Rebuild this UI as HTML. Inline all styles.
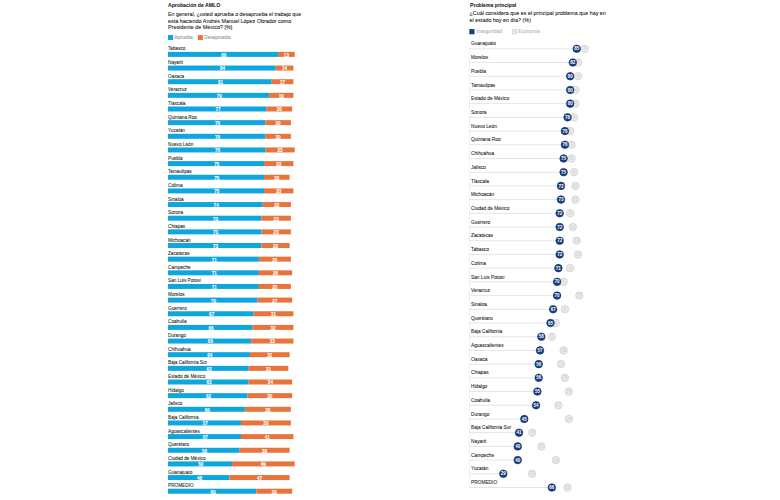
<!DOCTYPE html>
<html><head><meta charset="utf-8"><style>
html,body{margin:0;padding:0;background:#fff;width:780px;height:500px;overflow:hidden}
body{position:relative;font-family:"Liberation Sans",sans-serif}
.t{position:absolute;white-space:nowrap;-webkit-text-stroke:0.07px currentColor}
svg text{font-family:"Liberation Sans",sans-serif}
</style></head><body>
<svg style="position:absolute;left:0;top:0;width:780px;height:500px" width="780" height="500" viewBox="0 0 780 500">
<rect x="168.00" y="35.00" width="5.00" height="5.00" fill="#0ea6df" />
<rect x="197.90" y="35.00" width="5.00" height="5.00" fill="#e8743b" />
<rect x="168.00" y="51.90" width="110.08" height="5.00" fill="#0ea6df" />
<rect x="278.08" y="51.90" width="16.64" height="5.00" fill="#e8743b" />
<rect x="168.00" y="65.55" width="107.52" height="5.00" fill="#0ea6df" />
<rect x="275.52" y="65.55" width="17.92" height="5.00" fill="#e8743b" />
<rect x="168.00" y="79.20" width="103.68" height="5.00" fill="#0ea6df" />
<rect x="271.68" y="79.20" width="21.76" height="5.00" fill="#e8743b" />
<rect x="168.00" y="92.85" width="101.12" height="5.00" fill="#0ea6df" />
<rect x="269.12" y="92.85" width="24.32" height="5.00" fill="#e8743b" />
<rect x="168.00" y="106.50" width="98.56" height="5.00" fill="#0ea6df" />
<rect x="266.56" y="106.50" width="25.60" height="5.00" fill="#e8743b" />
<rect x="168.00" y="120.15" width="97.28" height="5.00" fill="#0ea6df" />
<rect x="265.28" y="120.15" width="25.60" height="5.00" fill="#e8743b" />
<rect x="168.00" y="133.80" width="97.28" height="5.00" fill="#0ea6df" />
<rect x="265.28" y="133.80" width="25.60" height="5.00" fill="#e8743b" />
<rect x="168.00" y="147.45" width="97.28" height="5.00" fill="#0ea6df" />
<rect x="265.28" y="147.45" width="29.44" height="5.00" fill="#e8743b" />
<rect x="168.00" y="161.10" width="96.00" height="5.00" fill="#0ea6df" />
<rect x="264.00" y="161.10" width="29.44" height="5.00" fill="#e8743b" />
<rect x="168.00" y="174.75" width="96.00" height="5.00" fill="#0ea6df" />
<rect x="264.00" y="174.75" width="25.60" height="5.00" fill="#e8743b" />
<rect x="168.00" y="188.40" width="96.00" height="5.00" fill="#0ea6df" />
<rect x="264.00" y="188.40" width="29.44" height="5.00" fill="#e8743b" />
<rect x="168.00" y="202.05" width="94.72" height="5.00" fill="#0ea6df" />
<rect x="262.72" y="202.05" width="28.16" height="5.00" fill="#e8743b" />
<rect x="168.00" y="215.70" width="93.44" height="5.00" fill="#0ea6df" />
<rect x="261.44" y="215.70" width="29.44" height="5.00" fill="#e8743b" />
<rect x="168.00" y="229.35" width="93.44" height="5.00" fill="#0ea6df" />
<rect x="261.44" y="229.35" width="29.44" height="5.00" fill="#e8743b" />
<rect x="168.00" y="243.00" width="93.44" height="5.00" fill="#0ea6df" />
<rect x="261.44" y="243.00" width="28.16" height="5.00" fill="#e8743b" />
<rect x="168.00" y="256.65" width="90.88" height="5.00" fill="#0ea6df" />
<rect x="258.88" y="256.65" width="32.00" height="5.00" fill="#e8743b" />
<rect x="168.00" y="270.30" width="90.88" height="5.00" fill="#0ea6df" />
<rect x="258.88" y="270.30" width="33.28" height="5.00" fill="#e8743b" />
<rect x="168.00" y="283.95" width="90.88" height="5.00" fill="#0ea6df" />
<rect x="258.88" y="283.95" width="32.00" height="5.00" fill="#e8743b" />
<rect x="168.00" y="297.60" width="89.60" height="5.00" fill="#0ea6df" />
<rect x="257.60" y="297.60" width="34.56" height="5.00" fill="#e8743b" />
<rect x="168.00" y="311.25" width="85.76" height="5.00" fill="#0ea6df" />
<rect x="253.76" y="311.25" width="39.68" height="5.00" fill="#e8743b" />
<rect x="168.00" y="324.90" width="84.48" height="5.00" fill="#0ea6df" />
<rect x="252.48" y="324.90" width="40.96" height="5.00" fill="#e8743b" />
<rect x="168.00" y="338.55" width="83.20" height="5.00" fill="#0ea6df" />
<rect x="251.20" y="338.55" width="42.24" height="5.00" fill="#e8743b" />
<rect x="168.00" y="352.20" width="81.92" height="5.00" fill="#0ea6df" />
<rect x="249.92" y="352.20" width="39.68" height="5.00" fill="#e8743b" />
<rect x="168.00" y="365.85" width="80.64" height="5.00" fill="#0ea6df" />
<rect x="248.64" y="365.85" width="39.68" height="5.00" fill="#e8743b" />
<rect x="168.00" y="379.50" width="80.64" height="5.00" fill="#0ea6df" />
<rect x="248.64" y="379.50" width="43.52" height="5.00" fill="#e8743b" />
<rect x="168.00" y="393.15" width="79.36" height="5.00" fill="#0ea6df" />
<rect x="247.36" y="393.15" width="44.80" height="5.00" fill="#e8743b" />
<rect x="168.00" y="406.80" width="76.80" height="5.00" fill="#0ea6df" />
<rect x="244.80" y="406.80" width="46.08" height="5.00" fill="#e8743b" />
<rect x="168.00" y="420.45" width="72.96" height="5.00" fill="#0ea6df" />
<rect x="240.96" y="420.45" width="49.92" height="5.00" fill="#e8743b" />
<rect x="168.00" y="434.10" width="72.96" height="5.00" fill="#0ea6df" />
<rect x="240.96" y="434.10" width="52.48" height="5.00" fill="#e8743b" />
<rect x="168.00" y="447.75" width="71.68" height="5.00" fill="#0ea6df" />
<rect x="239.68" y="447.75" width="49.92" height="5.00" fill="#e8743b" />
<rect x="168.00" y="461.40" width="64.00" height="5.00" fill="#0ea6df" />
<rect x="232.00" y="461.40" width="62.72" height="5.00" fill="#e8743b" />
<rect x="168.00" y="475.05" width="61.44" height="5.00" fill="#0ea6df" />
<rect x="229.44" y="475.05" width="60.16" height="5.00" fill="#e8743b" />
<rect x="168.00" y="488.70" width="88.32" height="5.00" fill="#0ea6df" />
<rect x="256.32" y="488.70" width="35.84" height="5.00" fill="#e8743b" />
<rect x="469.30" y="29.10" width="5.20" height="5.20" fill="#173f80" />
<rect x="512.50" y="29.50" width="4.40" height="4.40" fill="#e6e6e6" stroke="#d0d0d0" stroke-width="0.6"/>
<rect x="469.10" y="47.80" width="0.70" height="439.80" fill="#ececec" />
<rect x="469.10" y="48.30" width="107.63" height="1.00" fill="#e3e5e8" />
<rect x="469.10" y="62.01" width="103.70" height="1.00" fill="#e3e5e8" />
<rect x="469.10" y="75.72" width="101.08" height="1.00" fill="#e3e5e8" />
<rect x="469.10" y="89.43" width="101.08" height="1.00" fill="#e3e5e8" />
<rect x="469.10" y="103.14" width="101.08" height="1.00" fill="#e3e5e8" />
<rect x="469.10" y="116.85" width="98.46" height="1.00" fill="#e3e5e8" />
<rect x="469.10" y="130.56" width="95.84" height="1.00" fill="#e3e5e8" />
<rect x="469.10" y="144.27" width="95.84" height="1.00" fill="#e3e5e8" />
<rect x="469.10" y="157.98" width="94.52" height="1.00" fill="#e3e5e8" />
<rect x="469.10" y="171.69" width="94.52" height="1.00" fill="#e3e5e8" />
<rect x="469.10" y="185.40" width="91.90" height="1.00" fill="#e3e5e8" />
<rect x="469.10" y="199.11" width="91.90" height="1.00" fill="#e3e5e8" />
<rect x="469.10" y="212.82" width="90.59" height="1.00" fill="#e3e5e8" />
<rect x="469.10" y="226.53" width="90.59" height="1.00" fill="#e3e5e8" />
<rect x="469.10" y="240.24" width="90.59" height="1.00" fill="#e3e5e8" />
<rect x="469.10" y="253.95" width="90.59" height="1.00" fill="#e3e5e8" />
<rect x="469.10" y="267.66" width="89.28" height="1.00" fill="#e3e5e8" />
<rect x="469.10" y="281.37" width="87.97" height="1.00" fill="#e3e5e8" />
<rect x="469.10" y="295.08" width="87.97" height="1.00" fill="#e3e5e8" />
<rect x="469.10" y="308.79" width="84.04" height="1.00" fill="#e3e5e8" />
<rect x="469.10" y="322.50" width="81.41" height="1.00" fill="#e3e5e8" />
<rect x="469.10" y="336.21" width="72.24" height="1.00" fill="#e3e5e8" />
<rect x="469.10" y="349.92" width="70.93" height="1.00" fill="#e3e5e8" />
<rect x="469.10" y="363.63" width="69.62" height="1.00" fill="#e3e5e8" />
<rect x="469.10" y="377.34" width="69.62" height="1.00" fill="#e3e5e8" />
<rect x="469.10" y="391.05" width="68.30" height="1.00" fill="#e3e5e8" />
<rect x="469.10" y="404.76" width="66.99" height="1.00" fill="#e3e5e8" />
<rect x="469.10" y="418.47" width="55.19" height="1.00" fill="#e3e5e8" />
<rect x="469.10" y="432.18" width="49.95" height="1.00" fill="#e3e5e8" />
<rect x="469.10" y="445.89" width="48.64" height="1.00" fill="#e3e5e8" />
<rect x="469.10" y="459.60" width="48.64" height="1.00" fill="#e3e5e8" />
<rect x="469.10" y="473.31" width="34.22" height="1.00" fill="#e3e5e8" />
<rect x="469.10" y="487.02" width="82.73" height="1.00" fill="#e3e5e8" />
</svg>
<div class="t" style="left:168.00px;top:2.63px;font-size:5.4px;line-height:5.4px;font-weight:bold;color:#222;transform:scaleX(0.9491);transform-origin:0 0;">Aprobación de AMLO</div>
<div class="t" style="left:168.00px;top:12.11px;font-size:5.3px;line-height:5.3px;font-weight:normal;color:#161616;">En general, ¿usted aprueba o desaprueba el trabajo que</div>
<div class="t" style="left:168.00px;top:18.71px;font-size:5.3px;line-height:5.3px;font-weight:normal;color:#161616;transform:scaleX(1.019);transform-origin:0 0;">está haciendo Andrés Manuel López Obrador como</div>
<div class="t" style="left:168.00px;top:25.01px;font-size:5.3px;line-height:5.3px;font-weight:normal;color:#161616;transform:scaleX(1.019);transform-origin:0 0;">Presidente de México? [%]</div>
<div class="t" style="left:174.30px;top:36.35px;font-size:4.9px;line-height:4.9px;font-weight:normal;color:#8f979c;">Aprueba</div>
<div class="t" style="left:204.20px;top:36.39px;font-size:4.85px;line-height:4.85px;font-weight:normal;color:#968f8b;">Desaprueba</div>
<div class="t" style="left:168.00px;top:47.42px;font-size:4.7px;line-height:4.7px;font-weight:normal;color:#262626;">Tabasco</div>
<div class="t" style="left:213.84px;top:53.80px;width:20px;text-align:center;font-size:4.6px;line-height:4.6px;font-weight:bold;color:#fff">86</div>
<div class="t" style="left:276.40px;top:53.80px;width:20px;text-align:center;font-size:4.6px;line-height:4.6px;font-weight:bold;color:#fff">13</div>
<div class="t" style="left:168.00px;top:61.07px;font-size:4.7px;line-height:4.7px;font-weight:normal;color:#262626;">Nayarit</div>
<div class="t" style="left:212.56px;top:67.45px;width:20px;text-align:center;font-size:4.6px;line-height:4.6px;font-weight:bold;color:#fff">84</div>
<div class="t" style="left:274.48px;top:67.45px;width:20px;text-align:center;font-size:4.6px;line-height:4.6px;font-weight:bold;color:#fff">14</div>
<div class="t" style="left:168.00px;top:74.72px;font-size:4.7px;line-height:4.7px;font-weight:normal;color:#262626;">Oaxaca</div>
<div class="t" style="left:210.64px;top:81.10px;width:20px;text-align:center;font-size:4.6px;line-height:4.6px;font-weight:bold;color:#fff">81</div>
<div class="t" style="left:272.56px;top:81.10px;width:20px;text-align:center;font-size:4.6px;line-height:4.6px;font-weight:bold;color:#fff">17</div>
<div class="t" style="left:168.00px;top:88.37px;font-size:4.7px;line-height:4.7px;font-weight:normal;color:#262626;">Veracruz</div>
<div class="t" style="left:209.36px;top:94.75px;width:20px;text-align:center;font-size:4.6px;line-height:4.6px;font-weight:bold;color:#fff">79</div>
<div class="t" style="left:271.28px;top:94.75px;width:20px;text-align:center;font-size:4.6px;line-height:4.6px;font-weight:bold;color:#fff">19</div>
<div class="t" style="left:168.00px;top:102.02px;font-size:4.7px;line-height:4.7px;font-weight:normal;color:#262626;">Tlaxcala</div>
<div class="t" style="left:208.08px;top:108.40px;width:20px;text-align:center;font-size:4.6px;line-height:4.6px;font-weight:bold;color:#fff">77</div>
<div class="t" style="left:269.36px;top:108.40px;width:20px;text-align:center;font-size:4.6px;line-height:4.6px;font-weight:bold;color:#fff">20</div>
<div class="t" style="left:168.00px;top:115.67px;font-size:4.7px;line-height:4.7px;font-weight:normal;color:#262626;">Quintana Roo</div>
<div class="t" style="left:207.44px;top:122.05px;width:20px;text-align:center;font-size:4.6px;line-height:4.6px;font-weight:bold;color:#fff">76</div>
<div class="t" style="left:268.08px;top:122.05px;width:20px;text-align:center;font-size:4.6px;line-height:4.6px;font-weight:bold;color:#fff">20</div>
<div class="t" style="left:168.00px;top:129.32px;font-size:4.7px;line-height:4.7px;font-weight:normal;color:#262626;">Yucatán</div>
<div class="t" style="left:207.44px;top:135.70px;width:20px;text-align:center;font-size:4.6px;line-height:4.6px;font-weight:bold;color:#fff">76</div>
<div class="t" style="left:268.08px;top:135.70px;width:20px;text-align:center;font-size:4.6px;line-height:4.6px;font-weight:bold;color:#fff">20</div>
<div class="t" style="left:168.00px;top:142.97px;font-size:4.7px;line-height:4.7px;font-weight:normal;color:#262626;">Nuevo León</div>
<div class="t" style="left:207.44px;top:149.35px;width:20px;text-align:center;font-size:4.6px;line-height:4.6px;font-weight:bold;color:#fff">76</div>
<div class="t" style="left:270.00px;top:149.35px;width:20px;text-align:center;font-size:4.6px;line-height:4.6px;font-weight:bold;color:#fff">23</div>
<div class="t" style="left:168.00px;top:156.62px;font-size:4.7px;line-height:4.7px;font-weight:normal;color:#262626;">Puebla</div>
<div class="t" style="left:206.80px;top:163.00px;width:20px;text-align:center;font-size:4.6px;line-height:4.6px;font-weight:bold;color:#fff">75</div>
<div class="t" style="left:268.72px;top:163.00px;width:20px;text-align:center;font-size:4.6px;line-height:4.6px;font-weight:bold;color:#fff">23</div>
<div class="t" style="left:168.00px;top:170.27px;font-size:4.7px;line-height:4.7px;font-weight:normal;color:#262626;">Tamaulipas</div>
<div class="t" style="left:206.80px;top:176.65px;width:20px;text-align:center;font-size:4.6px;line-height:4.6px;font-weight:bold;color:#fff">75</div>
<div class="t" style="left:266.80px;top:176.65px;width:20px;text-align:center;font-size:4.6px;line-height:4.6px;font-weight:bold;color:#fff">20</div>
<div class="t" style="left:168.00px;top:183.92px;font-size:4.7px;line-height:4.7px;font-weight:normal;color:#262626;">Colima</div>
<div class="t" style="left:206.80px;top:190.30px;width:20px;text-align:center;font-size:4.6px;line-height:4.6px;font-weight:bold;color:#fff">75</div>
<div class="t" style="left:268.72px;top:190.30px;width:20px;text-align:center;font-size:4.6px;line-height:4.6px;font-weight:bold;color:#fff">23</div>
<div class="t" style="left:168.00px;top:197.57px;font-size:4.7px;line-height:4.7px;font-weight:normal;color:#262626;">Sinaloa</div>
<div class="t" style="left:206.16px;top:203.95px;width:20px;text-align:center;font-size:4.6px;line-height:4.6px;font-weight:bold;color:#fff">74</div>
<div class="t" style="left:266.80px;top:203.95px;width:20px;text-align:center;font-size:4.6px;line-height:4.6px;font-weight:bold;color:#fff">22</div>
<div class="t" style="left:168.00px;top:211.22px;font-size:4.7px;line-height:4.7px;font-weight:normal;color:#262626;">Sonora</div>
<div class="t" style="left:205.52px;top:217.60px;width:20px;text-align:center;font-size:4.6px;line-height:4.6px;font-weight:bold;color:#fff">73</div>
<div class="t" style="left:266.16px;top:217.60px;width:20px;text-align:center;font-size:4.6px;line-height:4.6px;font-weight:bold;color:#fff">23</div>
<div class="t" style="left:168.00px;top:224.87px;font-size:4.7px;line-height:4.7px;font-weight:normal;color:#262626;">Chiapas</div>
<div class="t" style="left:205.52px;top:231.25px;width:20px;text-align:center;font-size:4.6px;line-height:4.6px;font-weight:bold;color:#fff">73</div>
<div class="t" style="left:266.16px;top:231.25px;width:20px;text-align:center;font-size:4.6px;line-height:4.6px;font-weight:bold;color:#fff">23</div>
<div class="t" style="left:168.00px;top:238.52px;font-size:4.7px;line-height:4.7px;font-weight:normal;color:#262626;">Michoacán</div>
<div class="t" style="left:205.52px;top:244.90px;width:20px;text-align:center;font-size:4.6px;line-height:4.6px;font-weight:bold;color:#fff">73</div>
<div class="t" style="left:265.52px;top:244.90px;width:20px;text-align:center;font-size:4.6px;line-height:4.6px;font-weight:bold;color:#fff">22</div>
<div class="t" style="left:168.00px;top:252.17px;font-size:4.7px;line-height:4.7px;font-weight:normal;color:#262626;">Zacatecas</div>
<div class="t" style="left:204.24px;top:258.55px;width:20px;text-align:center;font-size:4.6px;line-height:4.6px;font-weight:bold;color:#fff">71</div>
<div class="t" style="left:264.88px;top:258.55px;width:20px;text-align:center;font-size:4.6px;line-height:4.6px;font-weight:bold;color:#fff">25</div>
<div class="t" style="left:168.00px;top:265.82px;font-size:4.7px;line-height:4.7px;font-weight:normal;color:#262626;">Campeche</div>
<div class="t" style="left:204.24px;top:272.20px;width:20px;text-align:center;font-size:4.6px;line-height:4.6px;font-weight:bold;color:#fff">71</div>
<div class="t" style="left:265.52px;top:272.20px;width:20px;text-align:center;font-size:4.6px;line-height:4.6px;font-weight:bold;color:#fff">26</div>
<div class="t" style="left:168.00px;top:279.47px;font-size:4.7px;line-height:4.7px;font-weight:normal;color:#262626;">San Luis Potosí</div>
<div class="t" style="left:204.24px;top:285.85px;width:20px;text-align:center;font-size:4.6px;line-height:4.6px;font-weight:bold;color:#fff">71</div>
<div class="t" style="left:264.88px;top:285.85px;width:20px;text-align:center;font-size:4.6px;line-height:4.6px;font-weight:bold;color:#fff">25</div>
<div class="t" style="left:168.00px;top:293.12px;font-size:4.7px;line-height:4.7px;font-weight:normal;color:#262626;">Morelos</div>
<div class="t" style="left:203.60px;top:299.50px;width:20px;text-align:center;font-size:4.6px;line-height:4.6px;font-weight:bold;color:#fff">70</div>
<div class="t" style="left:264.88px;top:299.50px;width:20px;text-align:center;font-size:4.6px;line-height:4.6px;font-weight:bold;color:#fff">27</div>
<div class="t" style="left:168.00px;top:306.77px;font-size:4.7px;line-height:4.7px;font-weight:normal;color:#262626;">Guerrero</div>
<div class="t" style="left:201.68px;top:313.15px;width:20px;text-align:center;font-size:4.6px;line-height:4.6px;font-weight:bold;color:#fff">67</div>
<div class="t" style="left:263.60px;top:313.15px;width:20px;text-align:center;font-size:4.6px;line-height:4.6px;font-weight:bold;color:#fff">31</div>
<div class="t" style="left:168.00px;top:320.42px;font-size:4.7px;line-height:4.7px;font-weight:normal;color:#262626;">Coahuila</div>
<div class="t" style="left:201.04px;top:326.80px;width:20px;text-align:center;font-size:4.6px;line-height:4.6px;font-weight:bold;color:#fff">66</div>
<div class="t" style="left:262.96px;top:326.80px;width:20px;text-align:center;font-size:4.6px;line-height:4.6px;font-weight:bold;color:#fff">32</div>
<div class="t" style="left:168.00px;top:334.07px;font-size:4.7px;line-height:4.7px;font-weight:normal;color:#262626;">Durango</div>
<div class="t" style="left:200.40px;top:340.45px;width:20px;text-align:center;font-size:4.6px;line-height:4.6px;font-weight:bold;color:#fff">65</div>
<div class="t" style="left:262.32px;top:340.45px;width:20px;text-align:center;font-size:4.6px;line-height:4.6px;font-weight:bold;color:#fff">33</div>
<div class="t" style="left:168.00px;top:347.72px;font-size:4.7px;line-height:4.7px;font-weight:normal;color:#262626;">Chihuahua</div>
<div class="t" style="left:199.76px;top:354.10px;width:20px;text-align:center;font-size:4.6px;line-height:4.6px;font-weight:bold;color:#fff">64</div>
<div class="t" style="left:259.76px;top:354.10px;width:20px;text-align:center;font-size:4.6px;line-height:4.6px;font-weight:bold;color:#fff">31</div>
<div class="t" style="left:168.00px;top:361.37px;font-size:4.7px;line-height:4.7px;font-weight:normal;color:#262626;">Baja California Sur</div>
<div class="t" style="left:199.12px;top:367.75px;width:20px;text-align:center;font-size:4.6px;line-height:4.6px;font-weight:bold;color:#fff">63</div>
<div class="t" style="left:258.48px;top:367.75px;width:20px;text-align:center;font-size:4.6px;line-height:4.6px;font-weight:bold;color:#fff">31</div>
<div class="t" style="left:168.00px;top:375.02px;font-size:4.7px;line-height:4.7px;font-weight:normal;color:#262626;">Estado de México</div>
<div class="t" style="left:199.12px;top:381.40px;width:20px;text-align:center;font-size:4.6px;line-height:4.6px;font-weight:bold;color:#fff">63</div>
<div class="t" style="left:260.40px;top:381.40px;width:20px;text-align:center;font-size:4.6px;line-height:4.6px;font-weight:bold;color:#fff">34</div>
<div class="t" style="left:168.00px;top:388.67px;font-size:4.7px;line-height:4.7px;font-weight:normal;color:#262626;">Hidalgo</div>
<div class="t" style="left:198.48px;top:395.05px;width:20px;text-align:center;font-size:4.6px;line-height:4.6px;font-weight:bold;color:#fff">62</div>
<div class="t" style="left:259.76px;top:395.05px;width:20px;text-align:center;font-size:4.6px;line-height:4.6px;font-weight:bold;color:#fff">35</div>
<div class="t" style="left:168.00px;top:402.32px;font-size:4.7px;line-height:4.7px;font-weight:normal;color:#262626;">Jalisco</div>
<div class="t" style="left:197.20px;top:408.70px;width:20px;text-align:center;font-size:4.6px;line-height:4.6px;font-weight:bold;color:#fff">60</div>
<div class="t" style="left:257.84px;top:408.70px;width:20px;text-align:center;font-size:4.6px;line-height:4.6px;font-weight:bold;color:#fff">36</div>
<div class="t" style="left:168.00px;top:415.97px;font-size:4.7px;line-height:4.7px;font-weight:normal;color:#262626;">Baja California</div>
<div class="t" style="left:195.28px;top:422.35px;width:20px;text-align:center;font-size:4.6px;line-height:4.6px;font-weight:bold;color:#fff">57</div>
<div class="t" style="left:255.92px;top:422.35px;width:20px;text-align:center;font-size:4.6px;line-height:4.6px;font-weight:bold;color:#fff">39</div>
<div class="t" style="left:168.00px;top:429.62px;font-size:4.7px;line-height:4.7px;font-weight:normal;color:#262626;">Aguascalientes</div>
<div class="t" style="left:195.28px;top:436.00px;width:20px;text-align:center;font-size:4.6px;line-height:4.6px;font-weight:bold;color:#fff">57</div>
<div class="t" style="left:257.20px;top:436.00px;width:20px;text-align:center;font-size:4.6px;line-height:4.6px;font-weight:bold;color:#fff">41</div>
<div class="t" style="left:168.00px;top:443.27px;font-size:4.7px;line-height:4.7px;font-weight:normal;color:#262626;">Querétaro</div>
<div class="t" style="left:194.64px;top:449.65px;width:20px;text-align:center;font-size:4.6px;line-height:4.6px;font-weight:bold;color:#fff">56</div>
<div class="t" style="left:254.64px;top:449.65px;width:20px;text-align:center;font-size:4.6px;line-height:4.6px;font-weight:bold;color:#fff">39</div>
<div class="t" style="left:168.00px;top:456.92px;font-size:4.7px;line-height:4.7px;font-weight:normal;color:#262626;">Ciudad de México</div>
<div class="t" style="left:190.80px;top:463.30px;width:20px;text-align:center;font-size:4.6px;line-height:4.6px;font-weight:bold;color:#fff">50</div>
<div class="t" style="left:253.36px;top:463.30px;width:20px;text-align:center;font-size:4.6px;line-height:4.6px;font-weight:bold;color:#fff">49</div>
<div class="t" style="left:168.00px;top:470.57px;font-size:4.7px;line-height:4.7px;font-weight:normal;color:#262626;">Guanajuato</div>
<div class="t" style="left:189.52px;top:476.95px;width:20px;text-align:center;font-size:4.6px;line-height:4.6px;font-weight:bold;color:#fff">48</div>
<div class="t" style="left:249.52px;top:476.95px;width:20px;text-align:center;font-size:4.6px;line-height:4.6px;font-weight:bold;color:#fff">47</div>
<div class="t" style="left:168.00px;top:484.22px;font-size:4.7px;line-height:4.7px;font-weight:normal;color:#262626;">PROMEDIO</div>
<div class="t" style="left:202.96px;top:490.60px;width:20px;text-align:center;font-size:4.6px;line-height:4.6px;font-weight:bold;color:#fff">69</div>
<div class="t" style="left:264.24px;top:490.60px;width:20px;text-align:center;font-size:4.6px;line-height:4.6px;font-weight:bold;color:#fff">28</div>
<div class="t" style="left:469.50px;top:2.80px;font-size:5.2px;line-height:5.2px;font-weight:bold;color:#222;transform:scaleX(0.9891);transform-origin:0 0;">Problema principal</div>
<div class="t" style="left:469.50px;top:11.43px;font-size:5.4px;line-height:5.4px;font-weight:normal;color:#161616;">¿Cuál considera que es el principal problema que hay en</div>
<div class="t" style="left:469.50px;top:17.63px;font-size:5.4px;line-height:5.4px;font-weight:normal;color:#161616;">el estado hoy en día? (%)</div>
<div class="t" style="left:476.30px;top:30.15px;font-size:4.9px;line-height:4.9px;font-weight:normal;color:#a8b3c2;">Inseguridad</div>
<div class="t" style="left:518.30px;top:30.24px;font-size:4.8px;line-height:4.8px;font-weight:normal;color:#b5b5b5;">Economía</div>
<div class="t" style="left:471.00px;top:42.44px;font-size:4.8px;line-height:4.8px;font-weight:normal;color:#262626;">Guanajuato</div>
<div class="t" style="left:471.00px;top:56.15px;font-size:4.8px;line-height:4.8px;font-weight:normal;color:#262626;">Morelos</div>
<div class="t" style="left:471.00px;top:69.86px;font-size:4.8px;line-height:4.8px;font-weight:normal;color:#262626;">Puebla</div>
<div class="t" style="left:471.00px;top:83.57px;font-size:4.8px;line-height:4.8px;font-weight:normal;color:#262626;">Tamaulipas</div>
<div class="t" style="left:471.00px;top:97.28px;font-size:4.8px;line-height:4.8px;font-weight:normal;color:#262626;">Estado de México</div>
<div class="t" style="left:471.00px;top:110.99px;font-size:4.8px;line-height:4.8px;font-weight:normal;color:#262626;">Sonora</div>
<div class="t" style="left:471.00px;top:124.70px;font-size:4.8px;line-height:4.8px;font-weight:normal;color:#262626;">Nuevo León</div>
<div class="t" style="left:471.00px;top:138.41px;font-size:4.8px;line-height:4.8px;font-weight:normal;color:#262626;">Quintana Roo</div>
<div class="t" style="left:471.00px;top:152.12px;font-size:4.8px;line-height:4.8px;font-weight:normal;color:#262626;">Chihuahua</div>
<div class="t" style="left:471.00px;top:165.83px;font-size:4.8px;line-height:4.8px;font-weight:normal;color:#262626;">Jalisco</div>
<div class="t" style="left:471.00px;top:179.54px;font-size:4.8px;line-height:4.8px;font-weight:normal;color:#262626;">Tlaxcala</div>
<div class="t" style="left:471.00px;top:193.25px;font-size:4.8px;line-height:4.8px;font-weight:normal;color:#262626;">Michoacán</div>
<div class="t" style="left:471.00px;top:206.96px;font-size:4.8px;line-height:4.8px;font-weight:normal;color:#262626;">Ciudad de México</div>
<div class="t" style="left:471.00px;top:220.67px;font-size:4.8px;line-height:4.8px;font-weight:normal;color:#262626;">Guerrero</div>
<div class="t" style="left:471.00px;top:234.38px;font-size:4.8px;line-height:4.8px;font-weight:normal;color:#262626;">Zacatecas</div>
<div class="t" style="left:471.00px;top:248.09px;font-size:4.8px;line-height:4.8px;font-weight:normal;color:#262626;">Tabasco</div>
<div class="t" style="left:471.00px;top:261.80px;font-size:4.8px;line-height:4.8px;font-weight:normal;color:#262626;">Colima</div>
<div class="t" style="left:471.00px;top:275.51px;font-size:4.8px;line-height:4.8px;font-weight:normal;color:#262626;">San Luis Potosí</div>
<div class="t" style="left:471.00px;top:289.22px;font-size:4.8px;line-height:4.8px;font-weight:normal;color:#262626;">Veracruz</div>
<div class="t" style="left:471.00px;top:302.93px;font-size:4.8px;line-height:4.8px;font-weight:normal;color:#262626;">Sinaloa</div>
<div class="t" style="left:471.00px;top:316.64px;font-size:4.8px;line-height:4.8px;font-weight:normal;color:#262626;">Querétaro</div>
<div class="t" style="left:471.00px;top:330.35px;font-size:4.8px;line-height:4.8px;font-weight:normal;color:#262626;">Baja California</div>
<div class="t" style="left:471.00px;top:344.06px;font-size:4.8px;line-height:4.8px;font-weight:normal;color:#262626;">Aguascalientes</div>
<div class="t" style="left:471.00px;top:357.77px;font-size:4.8px;line-height:4.8px;font-weight:normal;color:#262626;">Oaxaca</div>
<div class="t" style="left:471.00px;top:371.48px;font-size:4.8px;line-height:4.8px;font-weight:normal;color:#262626;">Chiapas</div>
<div class="t" style="left:471.00px;top:385.19px;font-size:4.8px;line-height:4.8px;font-weight:normal;color:#262626;">Hidalgo</div>
<div class="t" style="left:471.00px;top:398.90px;font-size:4.8px;line-height:4.8px;font-weight:normal;color:#262626;">Coahuila</div>
<div class="t" style="left:471.00px;top:412.61px;font-size:4.8px;line-height:4.8px;font-weight:normal;color:#262626;">Durango</div>
<div class="t" style="left:471.00px;top:426.32px;font-size:4.8px;line-height:4.8px;font-weight:normal;color:#262626;">Baja California Sur</div>
<div class="t" style="left:471.00px;top:440.03px;font-size:4.8px;line-height:4.8px;font-weight:normal;color:#262626;">Nayarit</div>
<div class="t" style="left:471.00px;top:453.74px;font-size:4.8px;line-height:4.8px;font-weight:normal;color:#262626;">Campeche</div>
<div class="t" style="left:471.00px;top:467.45px;font-size:4.8px;line-height:4.8px;font-weight:normal;color:#262626;">Yucatán</div>
<div class="t" style="left:471.00px;top:481.16px;font-size:4.8px;line-height:4.8px;font-weight:normal;color:#262626;">PROMEDIO</div>
<svg style="position:absolute;left:0;top:0;width:780px;height:500px" width="780" height="500" viewBox="0 0 780 500">
<circle cx="584.60" cy="48.80" r="3.7" fill="#ebebeb" stroke="#d3d3d3" stroke-width="0.9"/>
<text x="584.60" y="50.40" font-size="4.5" font-weight="bold" fill="#d6d6d6" text-anchor="middle">6</text>
<circle cx="576.74" cy="48.80" r="3.8" fill="#173f80" stroke="#0f2c5e" stroke-width="0.6"/>
<text x="576.74" y="50.40" font-size="4.5" font-weight="bold" fill="#ffffff" text-anchor="middle">85</text>
<circle cx="578.05" cy="62.51" r="3.7" fill="#ebebeb" stroke="#d3d3d3" stroke-width="0.9"/>
<text x="578.05" y="64.11" font-size="4.5" font-weight="bold" fill="#d6d6d6" text-anchor="middle">4</text>
<circle cx="572.80" cy="62.51" r="3.8" fill="#173f80" stroke="#0f2c5e" stroke-width="0.6"/>
<text x="572.80" y="64.11" font-size="4.5" font-weight="bold" fill="#ffffff" text-anchor="middle">82</text>
<circle cx="578.05" cy="76.22" r="3.7" fill="#ebebeb" stroke="#d3d3d3" stroke-width="0.9"/>
<text x="578.05" y="77.82" font-size="4.5" font-weight="bold" fill="#d6d6d6" text-anchor="middle">6</text>
<circle cx="570.18" cy="76.22" r="3.8" fill="#173f80" stroke="#0f2c5e" stroke-width="0.6"/>
<text x="570.18" y="77.82" font-size="4.5" font-weight="bold" fill="#ffffff" text-anchor="middle">80</text>
<circle cx="575.42" cy="89.93" r="3.7" fill="#ebebeb" stroke="#d3d3d3" stroke-width="0.9"/>
<text x="575.42" y="91.53" font-size="4.5" font-weight="bold" fill="#d6d6d6" text-anchor="middle">4</text>
<circle cx="570.18" cy="89.93" r="3.8" fill="#173f80" stroke="#0f2c5e" stroke-width="0.6"/>
<text x="570.18" y="91.53" font-size="4.5" font-weight="bold" fill="#ffffff" text-anchor="middle">80</text>
<circle cx="575.42" cy="103.64" r="3.7" fill="#ebebeb" stroke="#d3d3d3" stroke-width="0.9"/>
<text x="575.42" y="105.24" font-size="4.5" font-weight="bold" fill="#d6d6d6" text-anchor="middle">4</text>
<circle cx="570.18" cy="103.64" r="3.8" fill="#173f80" stroke="#0f2c5e" stroke-width="0.6"/>
<text x="570.18" y="105.24" font-size="4.5" font-weight="bold" fill="#ffffff" text-anchor="middle">80</text>
<circle cx="574.11" cy="117.35" r="3.7" fill="#ebebeb" stroke="#d3d3d3" stroke-width="0.9"/>
<text x="574.11" y="118.95" font-size="4.5" font-weight="bold" fill="#d6d6d6" text-anchor="middle">5</text>
<circle cx="567.56" cy="117.35" r="3.8" fill="#173f80" stroke="#0f2c5e" stroke-width="0.6"/>
<text x="567.56" y="118.95" font-size="4.5" font-weight="bold" fill="#ffffff" text-anchor="middle">78</text>
<circle cx="570.18" cy="131.06" r="3.7" fill="#ebebeb" stroke="#d3d3d3" stroke-width="0.9"/>
<text x="570.18" y="132.66" font-size="4.5" font-weight="bold" fill="#d6d6d6" text-anchor="middle">4</text>
<circle cx="564.94" cy="131.06" r="3.8" fill="#173f80" stroke="#0f2c5e" stroke-width="0.6"/>
<text x="564.94" y="132.66" font-size="4.5" font-weight="bold" fill="#ffffff" text-anchor="middle">76</text>
<circle cx="571.49" cy="144.77" r="3.7" fill="#ebebeb" stroke="#d3d3d3" stroke-width="0.9"/>
<text x="571.49" y="146.37" font-size="4.5" font-weight="bold" fill="#d6d6d6" text-anchor="middle">5</text>
<circle cx="564.94" cy="144.77" r="3.8" fill="#173f80" stroke="#0f2c5e" stroke-width="0.6"/>
<text x="564.94" y="146.37" font-size="4.5" font-weight="bold" fill="#ffffff" text-anchor="middle">76</text>
<circle cx="571.49" cy="158.48" r="3.7" fill="#ebebeb" stroke="#d3d3d3" stroke-width="0.9"/>
<text x="571.49" y="160.08" font-size="4.5" font-weight="bold" fill="#d6d6d6" text-anchor="middle">6</text>
<circle cx="563.62" cy="158.48" r="3.8" fill="#173f80" stroke="#0f2c5e" stroke-width="0.6"/>
<text x="563.62" y="160.08" font-size="4.5" font-weight="bold" fill="#ffffff" text-anchor="middle">75</text>
<circle cx="574.11" cy="172.19" r="3.7" fill="#ebebeb" stroke="#d3d3d3" stroke-width="0.9"/>
<text x="574.11" y="173.79" font-size="4.5" font-weight="bold" fill="#d6d6d6" text-anchor="middle">8</text>
<circle cx="563.62" cy="172.19" r="3.8" fill="#173f80" stroke="#0f2c5e" stroke-width="0.6"/>
<text x="563.62" y="173.79" font-size="4.5" font-weight="bold" fill="#ffffff" text-anchor="middle">75</text>
<circle cx="575.42" cy="185.90" r="3.7" fill="#ebebeb" stroke="#d3d3d3" stroke-width="0.9"/>
<text x="575.42" y="187.50" font-size="4.5" font-weight="bold" fill="#d6d6d6" text-anchor="middle">11</text>
<circle cx="561.00" cy="185.90" r="3.8" fill="#173f80" stroke="#0f2c5e" stroke-width="0.6"/>
<text x="561.00" y="187.50" font-size="4.5" font-weight="bold" fill="#ffffff" text-anchor="middle">73</text>
<circle cx="575.42" cy="199.61" r="3.7" fill="#ebebeb" stroke="#d3d3d3" stroke-width="0.9"/>
<text x="575.42" y="201.21" font-size="4.5" font-weight="bold" fill="#d6d6d6" text-anchor="middle">11</text>
<circle cx="561.00" cy="199.61" r="3.8" fill="#173f80" stroke="#0f2c5e" stroke-width="0.6"/>
<text x="561.00" y="201.21" font-size="4.5" font-weight="bold" fill="#ffffff" text-anchor="middle">73</text>
<circle cx="570.18" cy="213.32" r="3.7" fill="#ebebeb" stroke="#d3d3d3" stroke-width="0.9"/>
<text x="570.18" y="214.92" font-size="4.5" font-weight="bold" fill="#d6d6d6" text-anchor="middle">8</text>
<circle cx="559.69" cy="213.32" r="3.8" fill="#173f80" stroke="#0f2c5e" stroke-width="0.6"/>
<text x="559.69" y="214.92" font-size="4.5" font-weight="bold" fill="#ffffff" text-anchor="middle">72</text>
<circle cx="572.80" cy="227.03" r="3.7" fill="#ebebeb" stroke="#d3d3d3" stroke-width="0.9"/>
<text x="572.80" y="228.63" font-size="4.5" font-weight="bold" fill="#d6d6d6" text-anchor="middle">10</text>
<circle cx="559.69" cy="227.03" r="3.8" fill="#173f80" stroke="#0f2c5e" stroke-width="0.6"/>
<text x="559.69" y="228.63" font-size="4.5" font-weight="bold" fill="#ffffff" text-anchor="middle">72</text>
<circle cx="576.74" cy="240.74" r="3.7" fill="#ebebeb" stroke="#d3d3d3" stroke-width="0.9"/>
<text x="576.74" y="242.34" font-size="4.5" font-weight="bold" fill="#d6d6d6" text-anchor="middle">13</text>
<circle cx="559.69" cy="240.74" r="3.8" fill="#173f80" stroke="#0f2c5e" stroke-width="0.6"/>
<text x="559.69" y="242.34" font-size="4.5" font-weight="bold" fill="#ffffff" text-anchor="middle">72</text>
<circle cx="578.05" cy="254.45" r="3.7" fill="#ebebeb" stroke="#d3d3d3" stroke-width="0.9"/>
<text x="578.05" y="256.05" font-size="4.5" font-weight="bold" fill="#d6d6d6" text-anchor="middle">14</text>
<circle cx="559.69" cy="254.45" r="3.8" fill="#173f80" stroke="#0f2c5e" stroke-width="0.6"/>
<text x="559.69" y="256.05" font-size="4.5" font-weight="bold" fill="#ffffff" text-anchor="middle">72</text>
<circle cx="570.18" cy="268.16" r="3.7" fill="#ebebeb" stroke="#d3d3d3" stroke-width="0.9"/>
<text x="570.18" y="269.76" font-size="4.5" font-weight="bold" fill="#d6d6d6" text-anchor="middle">9</text>
<circle cx="558.38" cy="268.16" r="3.8" fill="#173f80" stroke="#0f2c5e" stroke-width="0.6"/>
<text x="558.38" y="269.76" font-size="4.5" font-weight="bold" fill="#ffffff" text-anchor="middle">71</text>
<circle cx="563.62" cy="281.87" r="3.7" fill="#ebebeb" stroke="#d3d3d3" stroke-width="0.9"/>
<text x="563.62" y="283.47" font-size="4.5" font-weight="bold" fill="#d6d6d6" text-anchor="middle">5</text>
<circle cx="557.07" cy="281.87" r="3.8" fill="#173f80" stroke="#0f2c5e" stroke-width="0.6"/>
<text x="557.07" y="283.47" font-size="4.5" font-weight="bold" fill="#ffffff" text-anchor="middle">70</text>
<circle cx="579.36" cy="295.58" r="3.7" fill="#ebebeb" stroke="#d3d3d3" stroke-width="0.9"/>
<text x="579.36" y="297.18" font-size="4.5" font-weight="bold" fill="#d6d6d6" text-anchor="middle">17</text>
<circle cx="557.07" cy="295.58" r="3.8" fill="#173f80" stroke="#0f2c5e" stroke-width="0.6"/>
<text x="557.07" y="297.18" font-size="4.5" font-weight="bold" fill="#ffffff" text-anchor="middle">70</text>
<circle cx="564.94" cy="309.29" r="3.7" fill="#ebebeb" stroke="#d3d3d3" stroke-width="0.9"/>
<text x="564.94" y="310.89" font-size="4.5" font-weight="bold" fill="#d6d6d6" text-anchor="middle">9</text>
<circle cx="553.14" cy="309.29" r="3.8" fill="#173f80" stroke="#0f2c5e" stroke-width="0.6"/>
<text x="553.14" y="310.89" font-size="4.5" font-weight="bold" fill="#ffffff" text-anchor="middle">67</text>
<circle cx="555.76" cy="323.00" r="3.7" fill="#ebebeb" stroke="#d3d3d3" stroke-width="0.9"/>
<text x="555.76" y="324.60" font-size="4.5" font-weight="bold" fill="#d6d6d6" text-anchor="middle">4</text>
<circle cx="550.51" cy="323.00" r="3.8" fill="#173f80" stroke="#0f2c5e" stroke-width="0.6"/>
<text x="550.51" y="324.60" font-size="4.5" font-weight="bold" fill="#ffffff" text-anchor="middle">65</text>
<circle cx="551.83" cy="336.71" r="3.7" fill="#ebebeb" stroke="#d3d3d3" stroke-width="0.9"/>
<text x="551.83" y="338.31" font-size="4.5" font-weight="bold" fill="#d6d6d6" text-anchor="middle">8</text>
<circle cx="541.34" cy="336.71" r="3.8" fill="#173f80" stroke="#0f2c5e" stroke-width="0.6"/>
<text x="541.34" y="338.31" font-size="4.5" font-weight="bold" fill="#ffffff" text-anchor="middle">58</text>
<circle cx="563.62" cy="350.42" r="3.7" fill="#ebebeb" stroke="#d3d3d3" stroke-width="0.9"/>
<text x="563.62" y="352.02" font-size="4.5" font-weight="bold" fill="#d6d6d6" text-anchor="middle">18</text>
<circle cx="540.03" cy="350.42" r="3.8" fill="#173f80" stroke="#0f2c5e" stroke-width="0.6"/>
<text x="540.03" y="352.02" font-size="4.5" font-weight="bold" fill="#ffffff" text-anchor="middle">57</text>
<circle cx="561.00" cy="364.13" r="3.7" fill="#ebebeb" stroke="#d3d3d3" stroke-width="0.9"/>
<text x="561.00" y="365.73" font-size="4.5" font-weight="bold" fill="#d6d6d6" text-anchor="middle">17</text>
<circle cx="538.72" cy="364.13" r="3.8" fill="#173f80" stroke="#0f2c5e" stroke-width="0.6"/>
<text x="538.72" y="365.73" font-size="4.5" font-weight="bold" fill="#ffffff" text-anchor="middle">56</text>
<circle cx="564.94" cy="377.84" r="3.7" fill="#ebebeb" stroke="#d3d3d3" stroke-width="0.9"/>
<text x="564.94" y="379.44" font-size="4.5" font-weight="bold" fill="#d6d6d6" text-anchor="middle">20</text>
<circle cx="538.72" cy="377.84" r="3.8" fill="#173f80" stroke="#0f2c5e" stroke-width="0.6"/>
<text x="538.72" y="379.44" font-size="4.5" font-weight="bold" fill="#ffffff" text-anchor="middle">56</text>
<circle cx="568.87" cy="391.55" r="3.7" fill="#ebebeb" stroke="#d3d3d3" stroke-width="0.9"/>
<text x="568.87" y="393.15" font-size="4.5" font-weight="bold" fill="#d6d6d6" text-anchor="middle">24</text>
<circle cx="537.40" cy="391.55" r="3.8" fill="#173f80" stroke="#0f2c5e" stroke-width="0.6"/>
<text x="537.40" y="393.15" font-size="4.5" font-weight="bold" fill="#ffffff" text-anchor="middle">55</text>
<circle cx="558.38" cy="405.26" r="3.7" fill="#ebebeb" stroke="#d3d3d3" stroke-width="0.9"/>
<text x="558.38" y="406.86" font-size="4.5" font-weight="bold" fill="#d6d6d6" text-anchor="middle">17</text>
<circle cx="536.09" cy="405.26" r="3.8" fill="#173f80" stroke="#0f2c5e" stroke-width="0.6"/>
<text x="536.09" y="406.86" font-size="4.5" font-weight="bold" fill="#ffffff" text-anchor="middle">54</text>
<circle cx="568.87" cy="418.97" r="3.7" fill="#ebebeb" stroke="#d3d3d3" stroke-width="0.9"/>
<text x="568.87" y="420.57" font-size="4.5" font-weight="bold" fill="#d6d6d6" text-anchor="middle">34</text>
<circle cx="524.29" cy="418.97" r="3.8" fill="#173f80" stroke="#0f2c5e" stroke-width="0.6"/>
<text x="524.29" y="420.57" font-size="4.5" font-weight="bold" fill="#ffffff" text-anchor="middle">45</text>
<circle cx="532.16" cy="432.68" r="3.7" fill="#ebebeb" stroke="#d3d3d3" stroke-width="0.9"/>
<text x="532.16" y="434.28" font-size="4.5" font-weight="bold" fill="#d6d6d6" text-anchor="middle">10</text>
<circle cx="519.05" cy="432.68" r="3.8" fill="#173f80" stroke="#0f2c5e" stroke-width="0.6"/>
<text x="519.05" y="434.28" font-size="4.5" font-weight="bold" fill="#ffffff" text-anchor="middle">41</text>
<circle cx="541.34" cy="446.39" r="3.7" fill="#ebebeb" stroke="#d3d3d3" stroke-width="0.9"/>
<text x="541.34" y="447.99" font-size="4.5" font-weight="bold" fill="#d6d6d6" text-anchor="middle">18</text>
<circle cx="517.74" cy="446.39" r="3.8" fill="#173f80" stroke="#0f2c5e" stroke-width="0.6"/>
<text x="517.74" y="447.99" font-size="4.5" font-weight="bold" fill="#ffffff" text-anchor="middle">40</text>
<circle cx="555.76" cy="460.10" r="3.7" fill="#ebebeb" stroke="#d3d3d3" stroke-width="0.9"/>
<text x="555.76" y="461.70" font-size="4.5" font-weight="bold" fill="#d6d6d6" text-anchor="middle">29</text>
<circle cx="517.74" cy="460.10" r="3.8" fill="#173f80" stroke="#0f2c5e" stroke-width="0.6"/>
<text x="517.74" y="461.70" font-size="4.5" font-weight="bold" fill="#ffffff" text-anchor="middle">40</text>
<circle cx="532.16" cy="473.81" r="3.7" fill="#ebebeb" stroke="#d3d3d3" stroke-width="0.9"/>
<text x="532.16" y="475.41" font-size="4.5" font-weight="bold" fill="#d6d6d6" text-anchor="middle">22</text>
<circle cx="503.32" cy="473.81" r="3.8" fill="#173f80" stroke="#0f2c5e" stroke-width="0.6"/>
<text x="503.32" y="475.41" font-size="4.5" font-weight="bold" fill="#ffffff" text-anchor="middle">29</text>
<circle cx="567.56" cy="487.52" r="3.7" fill="#ebebeb" stroke="#d3d3d3" stroke-width="0.9"/>
<text x="567.56" y="489.12" font-size="4.5" font-weight="bold" fill="#d6d6d6" text-anchor="middle">12</text>
<circle cx="551.83" cy="487.52" r="3.8" fill="#173f80" stroke="#0f2c5e" stroke-width="0.6"/>
<text x="551.83" y="489.12" font-size="4.5" font-weight="bold" fill="#ffffff" text-anchor="middle">66</text>
</svg>
</body></html>
